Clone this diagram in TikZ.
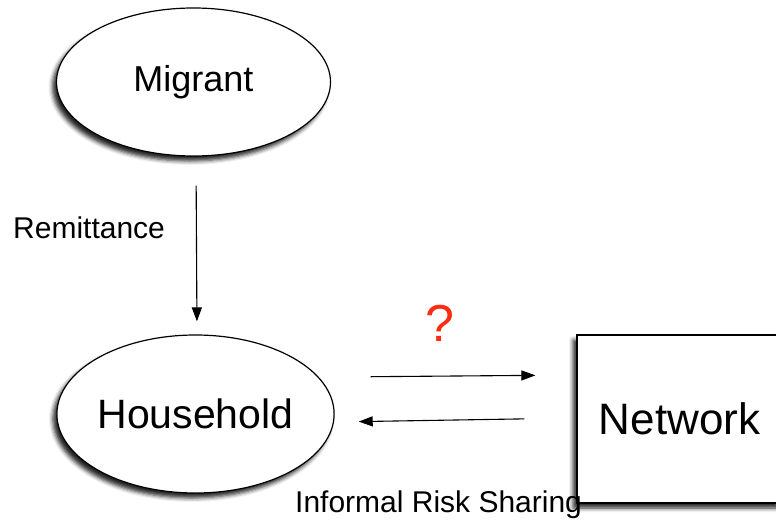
\documentclass[tikz,border=0pt]{standalone}
\usepackage{fontspec}
\setmainfont{Liberation Sans}
\usetikzlibrary{shapes.geometric,shadows.blur,arrows.meta}

\definecolor{rojo}{RGB}{250,45,20}

\begin{document}
\begin{tikzpicture}[x=1pt,y=-1pt,
    caja/.style={draw=black,line width=1.2pt,fill=white,
      blur shadow={shadow xshift=-4pt,shadow yshift=-5pt,
        shadow blur radius=4pt,shadow opacity=85}},
    elipse/.style={caja,ellipse,inner sep=0pt},
    flecha/.style={line width=1.1pt,-{Triangle[length=14pt,width=10pt]}},
    etiqueta/.style={anchor=base west,inner sep=0pt,
      font=\fontsize{30}{34}\selectfont}]
        % Paso 1: Fija el lienzo
        \clip (0,0) rectangle (776,525);

        % Paso 2: Dibuja el migrante y el hogar
        \node[elipse,minimum width=274pt,minimum height=148pt,
          font=\fontsize{36}{40}\selectfont] (migrant) at (193.5,82) {Migrant};
        \node[elipse,minimum width=275pt,minimum height=158pt,
          font=\fontsize{41}{45}\selectfont] (household) at (195.5,414) {Household};

        % Paso 3: Dibuja la red
        \node[caja,rectangle,minimum width=205pt,minimum height=168pt,
          font=\fontsize{44}{48}\selectfont] (network) at (679.5,419) {Network};

        % Paso 4: Dibuja las flechas
        \draw[flecha,shorten <=29pt,shorten >=13pt]
          ([xshift=2.5pt]migrant.south) -- ([xshift=1.5pt]household.north);
        \draw[flecha,shorten <=36pt,shorten >=41pt]
          ([yshift=37pt]household.east) -- ([yshift=44pt]network.west);
        \draw[flecha,shorten <=52pt,shorten >=24pt]
          ([yshift=1pt]network.west) -- ([yshift=-8pt]household.east);

        % Paso 5: Agrega las etiquetas
        \node[etiqueta] (remit) at (13,238) {Remittance};
        \node[etiqueta] (risk) at (295,512) {Informal Risk Sharing};
        \node[text=rojo,inner sep=0pt,font=\fontsize{52}{56}\selectfont]
          (query) at (439.5,323) {?};
    \end{tikzpicture}
\end{document}
